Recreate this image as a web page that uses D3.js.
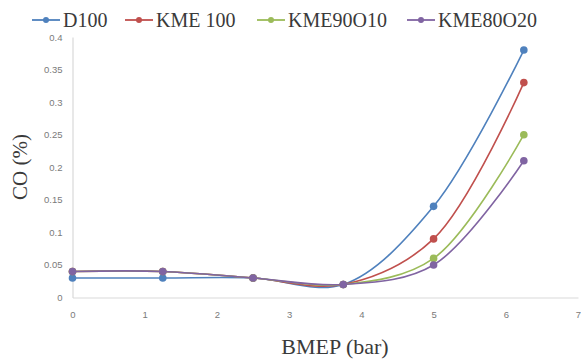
<!DOCTYPE html>
<html>
<head>
<meta charset="utf-8">
<script src="https://cdn.jsdelivr.net/npm/d3@7"></script>
<style>
  html, body { margin: 0; padding: 0; background: #fff; }
  svg { display: block; }
</style>
</head>
<body>
<svg id="chart" width="581" height="360"></svg>
<script>
// BMEP (bar) load points
const bmep = [0, 1.25, 2.5, 3.75, 5, 6.25];

// CO emissions (%) per fuel
const seriesNames = ["D100", "KME 100", "KME90O10", "KME80O20"];
const d100     = [0.03, 0.03, 0.03, 0.02, 0.14, 0.38];
const kme100   = [0.04, 0.04, 0.03, 0.02, 0.09, 0.33];
const kme90o10 = [0.04, 0.04, 0.03, 0.02, 0.06, 0.25];
const kme80o20 = [0.04, 0.04, 0.03, 0.02, 0.05, 0.21];
const seriesColors = ["#4F81BD", "#C0504D", "#9BBB59", "#8064A2"];

const xTicks = [0, 1, 2, 3, 4, 5, 6, 7];
const yTicks = [0, 0.05, 0.1, 0.15, 0.2, 0.25, 0.3, 0.35, 0.4];

const seriesValues = [d100, kme100, kme90o10, kme80o20];

const serifFont = "Liberation Serif, Tinos, Noto Serif, DejaVu Serif, FreeSerif, Nimbus Roman, Times New Roman, serif";
const tickFont = "Liberation Sans, Arial, sans-serif";

const svg = d3.select("#chart");
const plot = { left: 72.5, right: 578, top: 37, bottom: 297.5 };

const x = d3.scaleLinear().domain([0, 7]).range([plot.left, plot.right]);
const y = d3.scaleLinear().domain([0, 0.4]).range([plot.bottom, plot.top]);

// axes
const xAxis = d3.axisBottom(x).tickValues(xTicks).tickSize(0).tickPadding(14)
  .tickFormat(d3.format("d"));
const yAxis = d3.axisLeft(y).tickValues(yTicks).tickSize(0).tickPadding(10)
  .tickFormat(d => d === 0 ? "0" : String(+d.toFixed(2)));

const gx = svg.append("g").attr("transform", `translate(0,${plot.bottom})`).call(xAxis);
const gy = svg.append("g").attr("transform", `translate(${plot.left},0)`).call(yAxis);

[gx, gy].forEach(g => {
  g.attr("font-family", tickFont).attr("font-size", 9.5);
  g.select(".domain").attr("stroke", "#d9d9d9").attr("stroke-width", 1.2);
  g.selectAll("text").attr("fill", "#7a7a7a");
});

// series
const line = d3.line()
  .x((d, i) => x(bmep[i]))
  .y(d => y(d))
  .curve(d3.curveCatmullRom.alpha(0.5));

seriesValues.forEach((vals, s) => {
  const g = svg.append("g");
  g.append("path")
    .attr("d", line(vals))
    .attr("fill", "none")
    .attr("stroke", seriesColors[s])
    .attr("stroke-width", 1.6);
  g.selectAll("circle")
    .data(vals)
    .join("circle")
    .attr("cx", (d, i) => x(bmep[i]))
    .attr("cy", d => y(d))
    .attr("r", 3.8)
    .attr("fill", seriesColors[s]);
});

// axis titles
svg.append("text")
  .attr("x", 335).attr("y", 354)
  .attr("text-anchor", "middle")
  .attr("fill", "#3a3a3a")
  .attr("font-family", serifFont)
  .attr("font-size", 22)
  .text("BMEP (bar)");

svg.append("text")
  .attr("transform", "translate(27,167) rotate(-90)")
  .attr("text-anchor", "middle")
  .attr("fill", "#3a3a3a")
  .attr("font-family", serifFont)
  .attr("font-size", 21)
  .text("CO (%)");

// legend
const legendX = [32, 125, 257, 407];
const legend = svg.append("g");
seriesNames.forEach((name, s) => {
  const g = legend.append("g").attr("transform", `translate(${legendX[s]},20)`);
  g.append("line")
    .attr("x1", 0).attr("x2", 28).attr("y1", 0).attr("y2", 0)
    .attr("stroke", seriesColors[s]).attr("stroke-width", 1.8);
  g.append("circle").attr("cx", 14).attr("cy", 0).attr("r", 3).attr("fill", seriesColors[s]);
  g.append("text")
    .attr("x", 31).attr("y", 7)
    .attr("fill", "#3a3a3a")
    .attr("font-family", serifFont)
    .attr("font-size", 20)
    .text(name);
});
</script>
</body>
</html>
